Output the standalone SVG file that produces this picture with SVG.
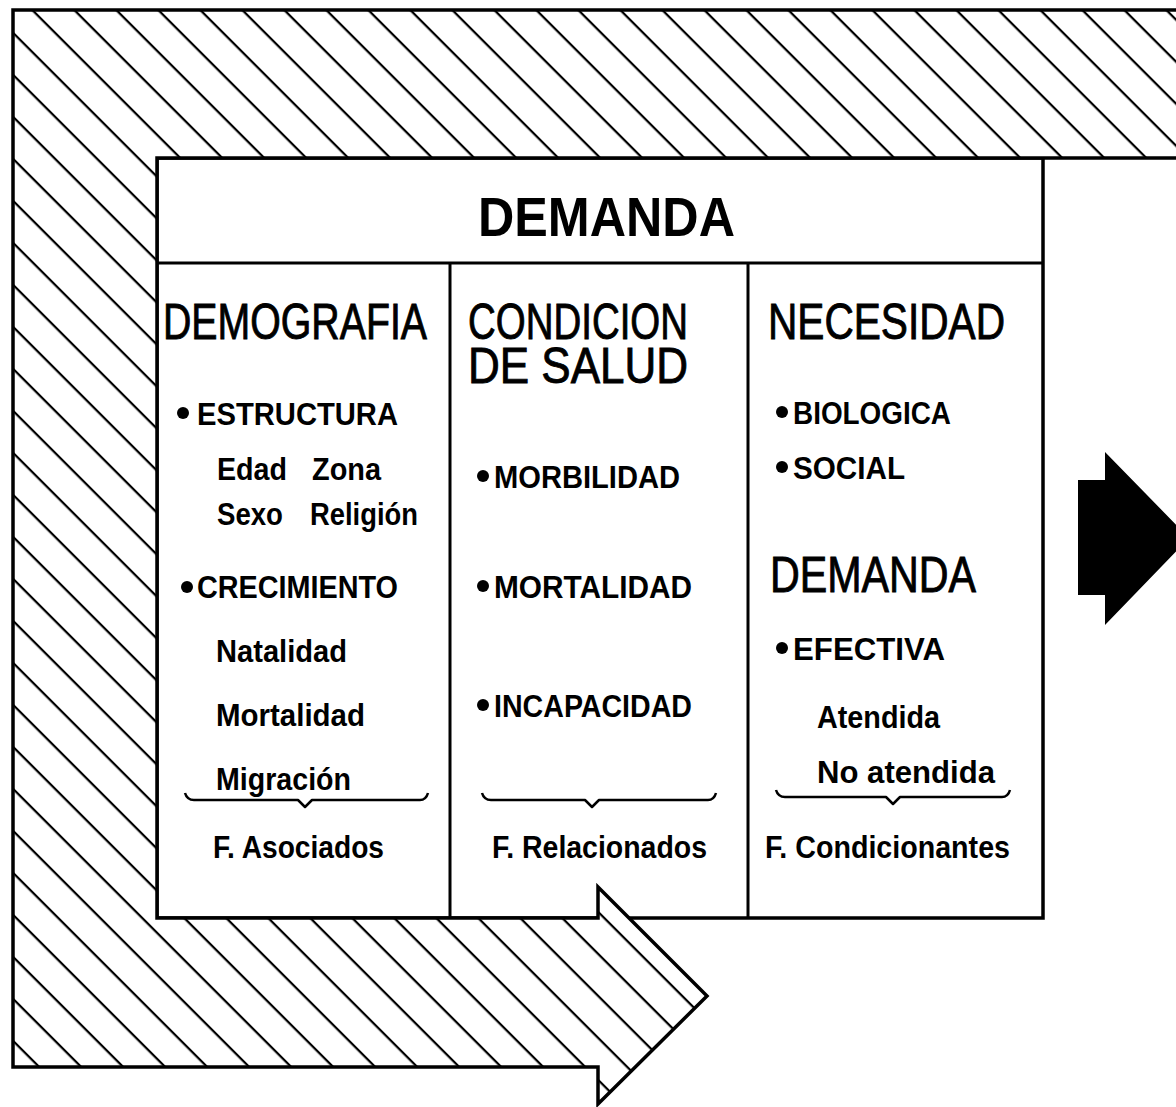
<svg xmlns="http://www.w3.org/2000/svg" width="1176" height="1107" viewBox="0 0 1176 1107">
<style>
.ol{fill:none;stroke:#000;stroke-width:3.5;stroke-linejoin:miter}
.t{font-family:"Liberation Sans",Arial,sans-serif;fill:#000}
.big{font-size:50px;stroke:#000;stroke-width:0.9}
.sm{font-size:31px;font-weight:bold}
.head{font-size:56px;font-weight:bold}
.br{fill:none;stroke:#000;stroke-width:2.5;stroke-linejoin:round}
.dot{fill:#000}
</style>
<defs>
<pattern id="hatch" patternUnits="userSpaceOnUse" width="60" height="29.7" patternTransform="rotate(45)">
<line x1="0" y1="14" x2="60" y2="14" stroke="#000" stroke-width="2.4"/>
</pattern>
<path id="hshape" d="M13,10 H1182 V158 H157 V918 H598 V887 L707,996 L598,1104 V1067 H13 Z"/>
</defs>
<rect width="1176" height="1107" fill="#fff"/>
<g id="box">
<rect x="157" y="158" width="886" height="760" fill="#fff" stroke="#000" stroke-width="3.5"/>
<line x1="157" y1="263" x2="1043" y2="263" stroke="#000" stroke-width="3"/>
<line x1="450" y1="263" x2="450" y2="918" stroke="#000" stroke-width="3"/>
<line x1="748" y1="263" x2="748" y2="918" stroke="#000" stroke-width="3"/>
<text class="t head" x="478" y="236" textLength="257" lengthAdjust="spacingAndGlyphs">DEMANDA</text>
</g>
<g id="hatched-arrow">
<use href="#hshape" fill="#fff"/>
<use href="#hshape" fill="url(#hatch)"/>
<use href="#hshape" class="ol"/>
</g>
<g id="col-demografia">
<text class="t big" x="163" y="339" textLength="264" lengthAdjust="spacingAndGlyphs">DEMOGRAFIA</text>
<circle class="dot" cx="183" cy="413" r="6"/>
<text class="t sm" x="197" y="425" textLength="201" lengthAdjust="spacingAndGlyphs">ESTRUCTURA</text>
<text class="t sm" x="217" y="480" textLength="70" lengthAdjust="spacingAndGlyphs">Edad</text>
<text class="t sm" x="312" y="480" textLength="69" lengthAdjust="spacingAndGlyphs">Zona</text>
<text class="t sm" x="217" y="525" textLength="66" lengthAdjust="spacingAndGlyphs">Sexo</text>
<text class="t sm" x="310" y="525" textLength="108" lengthAdjust="spacingAndGlyphs">Religión</text>
<circle class="dot" cx="187" cy="587" r="6"/>
<text class="t sm" x="197" y="598" textLength="201" lengthAdjust="spacingAndGlyphs">CRECIMIENTO</text>
<text class="t sm" x="216" y="662" textLength="131" lengthAdjust="spacingAndGlyphs">Natalidad</text>
<text class="t sm" x="216" y="726" textLength="149" lengthAdjust="spacingAndGlyphs">Mortalidad</text>
<text class="t sm" x="216" y="790" textLength="135" lengthAdjust="spacingAndGlyphs">Migración</text>
<path class="br" d="M185,793 Q187,800 194,800 H298 L305,807 L312,800 H420 Q426,800 428,793"/>
<text class="t sm" x="213" y="858" textLength="171" lengthAdjust="spacingAndGlyphs">F. Asociados</text>
</g>
<g id="col-condicion">
<text class="t big" x="468" y="339" textLength="220" lengthAdjust="spacingAndGlyphs">CONDICION</text>
<text class="t big" x="468" y="383" textLength="220" lengthAdjust="spacingAndGlyphs">DE SALUD</text>
<circle class="dot" cx="483" cy="476" r="6"/>
<text class="t sm" x="494" y="488" textLength="186" lengthAdjust="spacingAndGlyphs">MORBILIDAD</text>
<circle class="dot" cx="483" cy="586" r="6"/>
<text class="t sm" x="494" y="598" textLength="198" lengthAdjust="spacingAndGlyphs">MORTALIDAD</text>
<circle class="dot" cx="483" cy="705" r="6"/>
<text class="t sm" x="494" y="717" textLength="198" lengthAdjust="spacingAndGlyphs">INCAPACIDAD</text>
<path class="br" d="M482,793 Q484,800 491,800 H585 L592,807 L599,800 H708 Q714,800 716,793"/>
<text class="t sm" x="492" y="858" textLength="215" lengthAdjust="spacingAndGlyphs">F. Relacionados</text>
</g>
<g id="col-necesidad">
<text class="t big" x="768" y="339" textLength="237" lengthAdjust="spacingAndGlyphs">NECESIDAD</text>
<circle class="dot" cx="782" cy="412" r="6"/>
<text class="t sm" x="793" y="424" textLength="158" lengthAdjust="spacingAndGlyphs">BIOLOGICA</text>
<circle class="dot" cx="782" cy="467" r="6"/>
<text class="t sm" x="793" y="479" textLength="112" lengthAdjust="spacingAndGlyphs">SOCIAL</text>
<text class="t big" x="770" y="592" textLength="206" lengthAdjust="spacingAndGlyphs">DEMANDA</text>
<circle class="dot" cx="782" cy="648" r="6"/>
<text class="t sm" x="793" y="660" textLength="152" lengthAdjust="spacingAndGlyphs">EFECTIVA</text>
<text class="t sm" x="817" y="728" textLength="123" lengthAdjust="spacingAndGlyphs">Atendida</text>
<text class="t sm" x="817" y="783" textLength="178" lengthAdjust="spacingAndGlyphs">No  atendida</text>
<path class="br" d="M776,790 Q778,797 785,797 H886 L893,804 L900,797 H1002 Q1008,797 1010,790"/>
<text class="t sm" x="765" y="858" textLength="245" lengthAdjust="spacingAndGlyphs">F. Condicionantes</text>
</g>
<g id="black-arrow">
<polygon points="1078,480 1105,480 1105,452 1189,538 1105,625 1105,595 1078,595" fill="#000"/>
</g>
</svg>
